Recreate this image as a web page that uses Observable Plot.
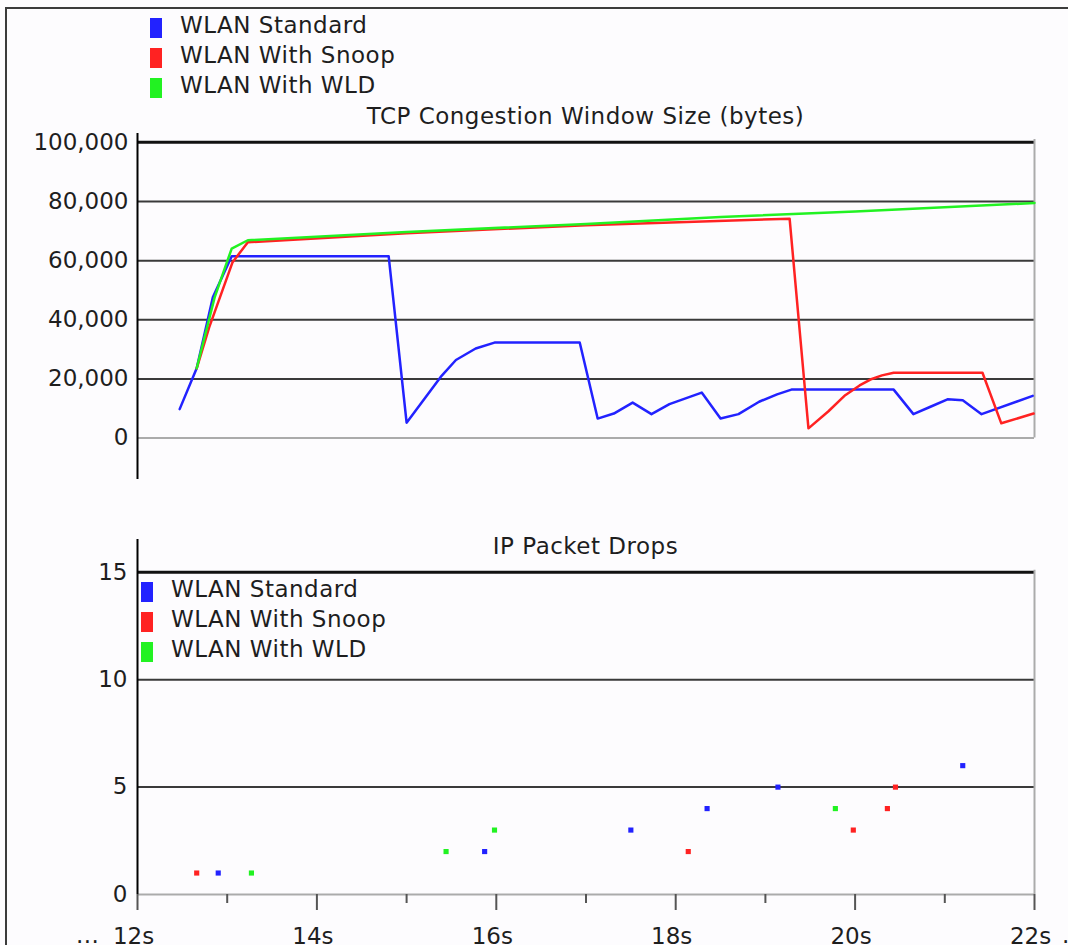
<!DOCTYPE html>
<html>
<head>
<meta charset="utf-8">
<script src="https://cdn.jsdelivr.net/npm/d3@7"></script>
<script src="https://cdn.jsdelivr.net/npm/@observablehq/plot@0.6"></script>
<style>
  html, body { margin: 0; padding: 0; background: #fdfcfe; }
  #page { position: relative; width: 1068px; height: 945px; overflow: hidden; background: #fdfcfe;
          font-family: 'DejaVu Sans', Verdana, sans-serif; color: #1e1e1e; }
  .abs { position: absolute; white-space: nowrap; font-size: 23px; line-height: 22px; letter-spacing: 0.5px; }
  .sw { position: absolute; }
  #frame { position: absolute; left: 5px; top: 7px; width: 1070px; height: 950px;
           border-top: 2px solid #3c3c3c; border-left: 2px solid #3c3c3c; }
  .title { position: absolute; left: 137px; width: 897px; text-align: center; font-size: 23px; line-height: 22px;
           letter-spacing: 0.5px; white-space: nowrap; }
</style>
</head>
<body>
<div id="page">
  <div id="frame"></div>
</div>
<script>
// ---------- data ----------
const seriesNames = ["WLAN Standard", "WLAN With Snoop", "WLAN With WLD"];
const seriesColors = ["#2222ff", "#ff2222", "#22f222"];

// TCP congestion window (bytes) vs time (s)
const stdTime = [12.47, 12.66, 12.84, 13.05, 14.80, 15.00, 15.38, 15.55, 15.77, 15.98, 16.93, 17.13, 17.31, 17.52, 17.73, 17.93, 18.29, 18.50, 18.70, 18.93, 19.13, 19.29, 20.43, 20.65, 20.84, 21.03, 21.20, 21.41, 21.98];
const stdCwnd = [9800, 23600, 47600, 61500, 61500, 5200, 20700, 26400, 30300, 32300, 32300, 6600, 8300, 12000, 8100, 11500, 15400, 6600, 8100, 12300, 14800, 16400, 16400, 8100, 10600, 13100, 12800, 8100, 14300];

const snoopTime = [12.66, 12.80, 13.06, 13.23, 15.00, 17.00, 19.27, 19.48, 19.70, 19.89, 20.05, 20.17, 20.30, 20.43, 21.42, 21.63, 21.99];
const snoopCwnd = [23600, 37500, 59500, 66200, 69300, 72000, 74200, 3300, 9000, 14500, 17800, 19800, 21200, 22100, 22100, 5000, 8300];

const wldTime = [12.66, 12.86, 13.05, 13.23, 15.00, 17.00, 18.50, 20.00, 22.00];
const wldCwnd = [23600, 47600, 64100, 66900, 69700, 72400, 74800, 76600, 79500];

// IP packet drops (cumulative count) vs time (s)
const stdDropTime = [12.90, 15.87, 17.50, 18.35, 19.14, 21.20];
const stdDropCount = [1, 2, 3, 4, 5, 6];
const snoopDropTime = [12.66, 18.14, 19.98, 20.36, 20.45];
const snoopDropCount = [1, 2, 3, 4, 5];
const wldDropTime = [13.27, 15.44, 15.98, 19.78];
const wldDropCount = [1, 2, 3, 4];

// ticks
const cwndTicks = [0, 20000, 40000, 60000, 80000, 100000];
const dropTicks = [0, 5, 10, 15];
const timeTicks = [12, 14, 16, 18, 20, 22];
const timeMinorTicks = [13, 15, 17, 19, 21];

// ---------- tables ----------
const zipRows = (name, xs, ys) => xs.map((t, i) => ({series: name, t, v: ys[i]}));
const cwnd = [
  ...zipRows(seriesNames[0], stdTime, stdCwnd),
  ...zipRows(seriesNames[1], snoopTime, snoopCwnd),
  ...zipRows(seriesNames[2], wldTime, wldCwnd)
];
const drops = [
  ...zipRows(seriesNames[0], stdDropTime, stdDropCount),
  ...zipRows(seriesNames[1], snoopDropTime, snoopDropCount),
  ...zipRows(seriesNames[2], wldDropTime, wldDropCount)
];

const fontFamily = "'DejaVu Sans', Verdana, sans-serif";
const page = document.getElementById("page");
const color = {domain: seriesNames, range: seriesColors};
const gridColor = "#3a3a3a";
const frameColor = "#ababab";

// ---------- top chart ----------
const topY = [-14000, 103000];
const topPlot = Plot.plot({
  width: 1068, height: 400,
  marginLeft: 137, marginRight: 34, marginTop: 33, marginBottom: 21,
  x: {domain: [12, 22], axis: null, label: null},
  y: {domain: topY, axis: null, label: null},
  color,
  style: {background: "transparent", fontFamily, fontSize: "23px", color: "#1e1e1e", overflow: "visible"},
  marks: [
    Plot.ruleY(cwndTicks.filter(d => d > 0 && d < 100000), {stroke: gridColor, strokeWidth: 2}),
    Plot.ruleY([100000], {stroke: "#111", strokeWidth: 3}),
    Plot.ruleY([0], {stroke: frameColor, strokeWidth: 2}),
    Plot.ruleX([22], {y1: 0, y2: 101000, stroke: frameColor, strokeWidth: 2}),
    Plot.ruleX([12], {y1: topY[0], y2: topY[1], stroke: "#000", strokeWidth: 2}),
    Plot.axisY({ticks: cwndTicks, tickSize: 0, tickPadding: 9, tickFormat: d3.format(","), fontSize: 23, label: null}),
    Plot.line(cwnd, {x: "t", y: "v", z: "series", stroke: "series", strokeWidth: 2.5})
  ]
});
topPlot.style.position = "absolute";
topPlot.style.left = "0px";
topPlot.style.top = "100px";
page.appendChild(topPlot);

// ---------- bottom chart ----------
const botY = [0, 16.53];
const botPlot = Plot.plot({
  width: 1068, height: 445,
  marginLeft: 137, marginRight: 34, marginTop: 39, marginBottom: 51,
  x: {domain: [12, 22], axis: null, label: null},
  y: {domain: botY, axis: null, label: null},
  color,
  style: {background: "transparent", fontFamily, fontSize: "23px", color: "#1e1e1e", overflow: "visible"},
  marks: [
    Plot.ruleY(dropTicks.filter(d => d > 0 && d < 15), {stroke: gridColor, strokeWidth: 2}),
    Plot.ruleY([15], {stroke: "#111", strokeWidth: 3}),
    Plot.ruleY([0], {stroke: frameColor, strokeWidth: 2}),
    Plot.ruleX([22], {y1: 0, y2: 15.1, stroke: frameColor, strokeWidth: 2}),
    Plot.ruleX([12], {y1: botY[0], y2: botY[1], stroke: "#000", strokeWidth: 2}),
    Plot.axisY({ticks: dropTicks, tickSize: 0, tickPadding: 10, fontSize: 23, label: null}),
    Plot.axisX({ticks: timeTicks, tickSize: 16, tickFormat: () => "", stroke: "#555", strokeWidth: 2, label: null}),
    Plot.axisX({ticks: timeMinorTicks, tickSize: 9, tickFormat: () => "", stroke: "#555", strokeWidth: 2, label: null}),
    Plot.axisX({ticks: timeTicks, tickSize: 0, tickPadding: 33, dx: -4, tickFormat: d => d + "s", fontSize: 23, label: null}),
    Plot.dot(drops, {x: "t", y: "v", fill: "series", symbol: "square", r: 2.9})
  ]
});
botPlot.style.position = "absolute";
botPlot.style.left = "0px";
botPlot.style.top = "500px";
page.appendChild(botPlot);

// ---------- titles ----------
function addTitle(text, top) {
  const d = document.createElement("div");
  d.className = "title";
  d.style.top = top + "px";
  d.textContent = text;
  page.appendChild(d);
}
addTitle("TCP Congestion Window Size (bytes)", 105);
addTitle("IP Packet Drops", 535);

// ---------- legends ----------
function addLegend(swLeft, swTop, textLeft, textTop, swW) {
  seriesNames.forEach((name, i) => {
    const sw = document.createElement("div");
    sw.className = "sw";
    sw.style.left = swLeft + "px";
    sw.style.top = (swTop + 30 * i) + "px";
    sw.style.width = swW + "px";
    sw.style.height = "20px";
    sw.style.background = seriesColors[i];
    page.appendChild(sw);
    const t = document.createElement("div");
    t.className = "abs";
    t.style.left = textLeft + "px";
    t.style.top = (textTop + 30 * i) + "px";
    t.textContent = name;
    page.appendChild(t);
  });
}
addLegend(150, 18, 180, 14, 12);
addLegend(141, 582, 171, 578, 12);

// ---------- axis ellipses ----------
function addText(text, left, top) {
  const d = document.createElement("div");
  d.className = "abs";
  d.style.left = left + "px";
  d.style.top = top + "px";
  d.textContent = text;
  page.appendChild(d);
}
addText("...", 76, 924);
addText(".", 1062, 924);
</script>
</body>
</html>
